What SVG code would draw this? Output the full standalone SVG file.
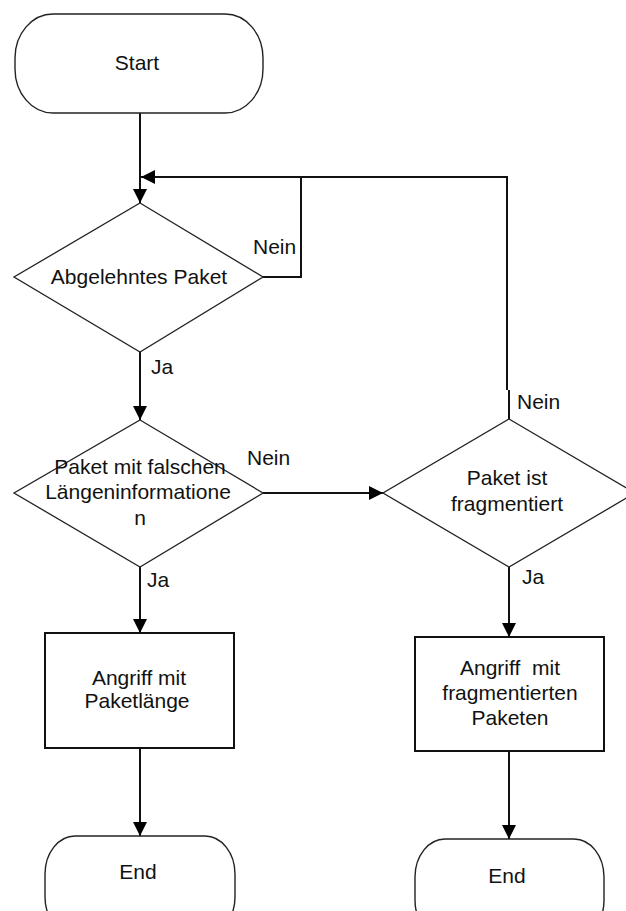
<svg xmlns="http://www.w3.org/2000/svg" width="626" height="911" viewBox="0 0 626 911">
  <defs>
    <marker id="arrow" viewBox="0 0 14 14" refX="14" refY="7" markerWidth="14" markerHeight="14" markerUnits="userSpaceOnUse" orient="auto">
      <path d="M0,0 L14,7 L0,14 Z" fill="#000"/>
    </marker>
    <style>
      .term { fill: #fff; stroke: #222; stroke-width: 1.4; }
      .dec { fill: #fff; stroke: #222; stroke-width: 1.3; }
      .proc { fill: #fff; stroke: #111; stroke-width: 2; }
      .conn { fill: none; stroke: #111; stroke-width: 2; }
      .arr { marker-end: url(#arrow); }
      text { font-family: "Liberation Sans", Arial, sans-serif; font-size: 21px; fill: #111; }
      .c { text-anchor: middle; }
    </style>
  </defs>
  <rect width="626" height="911" fill="#fff"/>

  <g id="connectors">
    <path class="conn arr" d="M140,113 V203"/>
    <path class="conn" d="M263,277 H301 V177"/>
    <path class="conn" d="M509,419 V390"/>
    <path class="conn arr" d="M507,390 V177 H141"/>
    <path class="conn arr" d="M140,352 V420"/>
    <path class="conn arr" d="M263,493 H383"/>
    <path class="conn arr" d="M140,567 V633"/>
    <path class="conn arr" d="M140,748 V836"/>
    <path class="conn arr" d="M509,567 V637"/>
    <path class="conn arr" d="M509,751 V839"/>
  </g>

  <g id="labels">
    <text x="253" y="254">Nein</text>
    <text x="151" y="374">Ja</text>
    <text x="247" y="465">Nein</text>
    <text x="147" y="587">Ja</text>
    <text x="517" y="409">Nein</text>
    <text x="522" y="584">Ja</text>
  </g>

  <g id="start">
    <rect class="term" x="15" y="14" width="248" height="99" rx="38" ry="44"/>
    <text class="c" x="137" y="70">Start</text>
  </g>

  <g id="abgelehnt">
    <polygon class="dec" points="140,203 263,277 140,352 14,277"/>
    <text class="c" x="139" y="284">Abgelehntes Paket</text>
  </g>

  <g id="laenge">
    <polygon class="dec" points="140,420 263,493 140,567 14,493"/>
    <text class="c" x="140" y="474">Paket mit falschen</text>
    <text class="c" x="138" y="499">Längeninformatione</text>
    <text class="c" x="140" y="525">n</text>
  </g>

  <g id="fragmentiert">
    <polygon class="dec" points="509,419 635,493 509,567 383,493"/>
    <text class="c" x="507" y="485">Paket ist</text>
    <text class="c" x="507" y="511">fragmentiert</text>
  </g>

  <g id="angriff-laenge">
    <rect class="proc" x="45" y="633" width="189" height="115"/>
    <text class="c" x="139" y="685">Angriff mit</text>
    <text class="c" x="137" y="708">Paketlänge</text>
  </g>

  <g id="angriff-fragment">
    <rect class="proc" x="415" y="637" width="189" height="114"/>
    <text class="c" x="510" y="675" xml:space="preserve">Angriff  mit</text>
    <text class="c" x="510" y="700">fragmentierten</text>
    <text class="c" x="510" y="725">Paketen</text>
  </g>

  <g id="end-left">
    <rect class="term" x="45" y="836" width="190" height="99" rx="30" ry="38"/>
    <text class="c" x="138" y="879">End</text>
  </g>

  <g id="end-right">
    <rect class="term" x="415" y="839" width="189" height="99" rx="30" ry="38"/>
    <text class="c" x="507" y="883">End</text>
  </g>
</svg>
